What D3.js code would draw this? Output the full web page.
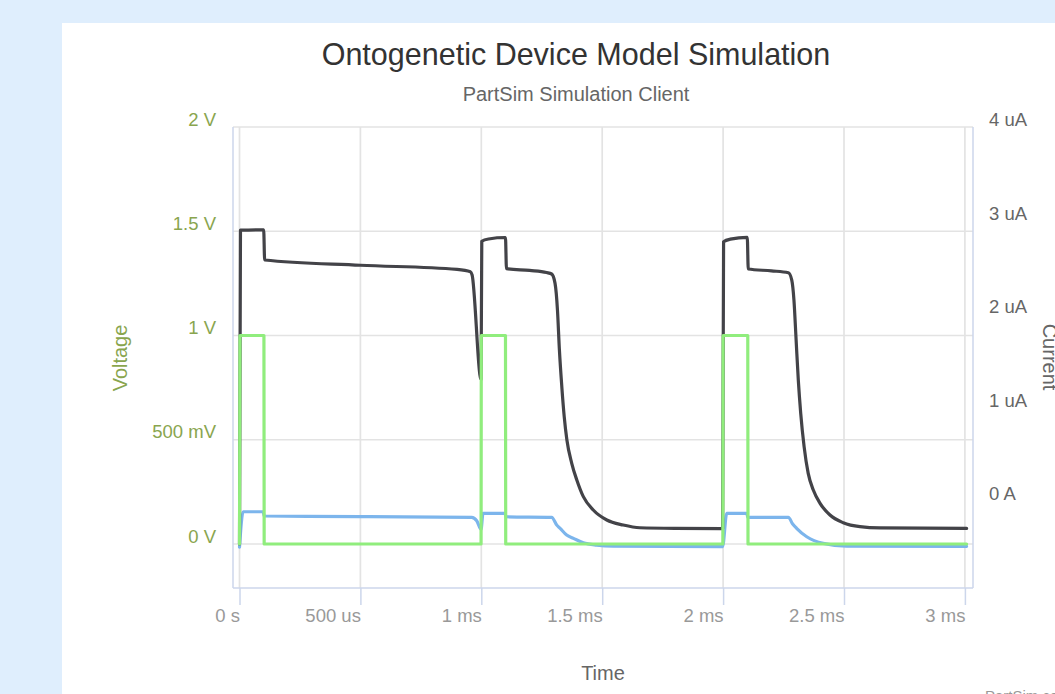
<!DOCTYPE html>
<html>
<head>
<meta charset="utf-8">
<script src="https://cdn.jsdelivr.net/npm/d3@7/dist/d3.min.js"></script>
<style>
  html, body { margin: 0; padding: 0; background: #dfeefd; }
  svg { display: block; font-family: "Liberation Sans", Arial, Helvetica, sans-serif; }
</style>
</head>
<body>
<svg id="chart" width="1055" height="694"></svg>
<script>
// ---- Data (time in ms) ----
const titleText = "Ontogenetic Device Model Simulation";
const subtitleText = "PartSim Simulation Client";
const creditText = "PartSim.com";

const xTickValues = [0, 0.5, 1, 1.5, 2, 2.5, 3];
const xTickLabels = ["0 s", "500 us", "1 ms", "1.5 ms", "2 ms", "2.5 ms", "3 ms"];
const vTickValues = [0, 0.5, 1, 1.5, 2];
const vTickLabels = ["0 V", "500 mV", "1 V", "1.5 V", "2 V"];
const iTickValues = [0, 1, 2, 3, 4];
const iTickLabels = ["0 A", "1 uA", "2 uA", "3 uA", "4 uA"];

// Series 1 (blue) – current, uA (right axis)
const blueTime = [0, 0.015, 0.098, 0.102, 0.5, 0.96, 0.981, 0.999, 1.007, 1.098, 1.102, 1.291, 1.312, 1.326, 1.353, 1.381, 1.422, 1.477, 1.546, 1.998, 2.015, 2.098, 2.102, 2.270, 2.287, 2.304, 2.346, 2.414, 2.511, 3.007];
const blueCurrent = [-0.49, -0.111, -0.111, -0.157, -0.163, -0.171, -0.208, -0.30, -0.128, -0.128, -0.165, -0.171, -0.254, -0.289, -0.361, -0.396, -0.443, -0.468, -0.479, -0.484, -0.128, -0.128, -0.171, -0.171, -0.240, -0.289, -0.379, -0.450, -0.479, -0.482];

// Series 2 (black) – voltage, V (left axis)
const blackTime = [0, 0.004, 0.1, 0.104, 0.5, 0.9, 0.955, 0.962, 0.999, 1.002, 1.03, 1.1, 1.104, 1.2, 1.27, 1.291, 1.305, 1.315, 1.323, 1.333, 1.343, 1.354, 1.374, 1.395, 1.422, 1.463, 1.519, 1.587, 1.656, 1.8, 1.998, 2.002, 2.03, 2.1, 2.104, 2.2, 2.270, 2.284, 2.293, 2.302, 2.311, 2.321, 2.335, 2.352, 2.373, 2.401, 2.442, 2.497, 2.566, 2.649, 3.007];
const blackVoltage = [0, 1.505, 1.507, 1.362, 1.337, 1.317, 1.306, 1.29, 0.79, 1.452, 1.463, 1.470, 1.321, 1.312, 1.302, 1.295, 1.250, 1.122, 0.931, 0.754, 0.610, 0.499, 0.387, 0.307, 0.227, 0.163, 0.115, 0.091, 0.078, 0.075, 0.074, 1.450, 1.462, 1.471, 1.319, 1.310, 1.301, 1.266, 1.170, 0.978, 0.786, 0.627, 0.467, 0.339, 0.259, 0.195, 0.139, 0.102, 0.083, 0.077, 0.075];

// Series 3 (green) – input pulse, V (left axis)
const greenTime = [0, 0.002, 0.101, 0.102, 0.999, 1.0, 1.1, 1.101, 1.999, 2.0, 2.102, 2.103, 3.007];
const greenVoltage = [0, 1, 1, 0, 0, 1, 1, 0, 0, 1, 1, 0, 0];

// ---- Layout ----
const plot = { left: 233, right: 973, top: 127, bottom: 588 };
const svg = d3.select("#chart");

svg.append("rect").attr("width", 1055).attr("height", 694).attr("fill", "#dfeefd");
svg.append("rect").attr("x", 62).attr("y", 23).attr("width", 1100).attr("height", 700).attr("fill", "#ffffff");

const x = d3.scaleLinear().domain([-0.0269, 3.0335]).range([plot.left, plot.right]);
const yV = d3.scaleLinear().domain([-0.211, 2]).range([plot.bottom, plot.top]);
const yI = d3.scaleLinear().domain([-0.928, 4.01]).range([plot.bottom, plot.top]);

// Gridlines
const grid = svg.append("g");
grid.selectAll("line.h").data(vTickValues).enter().append("line")
  .attr("x1", plot.left).attr("x2", plot.right)
  .attr("y1", d => yV(d)).attr("y2", d => yV(d))
  .attr("stroke", "#e3e3e3").attr("stroke-width", 1.7);
grid.selectAll("line.v").data(xTickValues).enter().append("line")
  .attr("y1", plot.top).attr("y2", plot.bottom)
  .attr("x1", d => x(d)).attr("x2", d => x(d))
  .attr("stroke", "#e3e3e3").attr("stroke-width", 1.7);

// Axis lines
const axisColor = "#ccd6eb";
svg.append("line").attr("x1", plot.left).attr("x2", plot.left).attr("y1", plot.top).attr("y2", plot.bottom)
  .attr("stroke", axisColor).attr("stroke-width", 1.5);
svg.append("line").attr("x1", plot.right).attr("x2", plot.right).attr("y1", plot.top).attr("y2", plot.bottom)
  .attr("stroke", axisColor).attr("stroke-width", 1.5);
svg.append("line").attr("x1", plot.left).attr("x2", plot.right).attr("y1", plot.bottom).attr("y2", plot.bottom)
  .attr("stroke", axisColor).attr("stroke-width", 1.5);

// X axis
const xAxis = d3.axisBottom(x).tickValues(xTickValues).tickSize(17).tickFormat((d, i) => xTickLabels[i]);
const gx = svg.append("g").attr("transform", `translate(0,${plot.bottom})`).call(xAxis);
gx.select(".domain").remove();
gx.selectAll(".tick line").attr("stroke", axisColor).attr("stroke-width", 1.5);
gx.selectAll(".tick text").attr("y", 34).attr("dy", null).attr("text-anchor", "end")
  .attr("fill", "#999").style("font-size", "18.5px").style("font-family", "inherit");

// Left axis (Voltage)
const yAxisL = d3.axisLeft(yV).tickValues(vTickValues).tickSize(0).tickPadding(0).tickFormat((d, i) => vTickLabels[i]);
const gl = svg.append("g").attr("transform", `translate(216,0)`).call(yAxisL);
gl.select(".domain").remove();
gl.selectAll(".tick text").attr("x", 0).attr("dy", null).attr("y", -2)
  .attr("fill", "#89a54e").style("font-size", "18.5px").style("font-family", "inherit");

// Right axis (Current)
const yAxisR = d3.axisRight(yI).tickValues(iTickValues).tickSize(0).tickPadding(0).tickFormat((d, i) => iTickLabels[i]);
const gr = svg.append("g").attr("transform", `translate(989,0)`).call(yAxisR);
gr.select(".domain").remove();
gr.selectAll(".tick text").attr("x", 0).attr("dy", null).attr("y", -2)
  .attr("fill", "#666").style("font-size", "18.5px").style("font-family", "inherit");

// Series
svg.append("clipPath").attr("id", "clip").append("rect")
  .attr("x", plot.left).attr("y", plot.top - 5).attr("width", plot.right - plot.left).attr("height", plot.bottom - plot.top + 5);
const series = svg.append("g").attr("clip-path", "url(#clip)");

function drawLine(ts, vs, yScale, color, curve) {
  const pts = ts.map((t, i) => [t, vs[i]]);
  series.append("path").datum(pts)
    .attr("fill", "none").attr("stroke", color).attr("stroke-width", 3.2)
    .attr("stroke-linejoin", "round").attr("stroke-linecap", "round")
    .attr("d", d3.line().curve(curve).x(d => x(d[0])).y(d => yScale(d[1])));
}
drawLine(blueTime, blueCurrent, yI, "#7cb5ec", d3.curveMonotoneX);
drawLine(blackTime, blackVoltage, yV, "#434348", d3.curveMonotoneX);
drawLine(greenTime, greenVoltage, yV, "#90ed7d", d3.curveLinear);

// Titles
svg.append("text").attr("x", 576).attr("y", 65).attr("text-anchor", "middle")
  .attr("fill", "#333").style("font-size", "30.5px").text(titleText);
svg.append("text").attr("x", 576).attr("y", 101).attr("text-anchor", "middle")
  .attr("fill", "#666").style("font-size", "20px").text(subtitleText);

svg.append("text").attr("transform", "translate(127,358) rotate(-90)").attr("text-anchor", "middle")
  .attr("fill", "#89a54e").style("font-size", "20px").text("Voltage");
svg.append("text").attr("transform", "translate(1043,357) rotate(90)").attr("text-anchor", "middle")
  .attr("fill", "#666").style("font-size", "20px").text("Current");
svg.append("text").attr("x", 603).attr("y", 680).attr("text-anchor", "middle")
  .attr("fill", "#666").style("font-size", "20px").text("Time");

svg.append("text").attr("x", 985).attr("y", 700.5).attr("text-anchor", "start")
  .attr("fill", "#999").style("font-size", "15px").text(creditText);
</script>
</body>
</html>
